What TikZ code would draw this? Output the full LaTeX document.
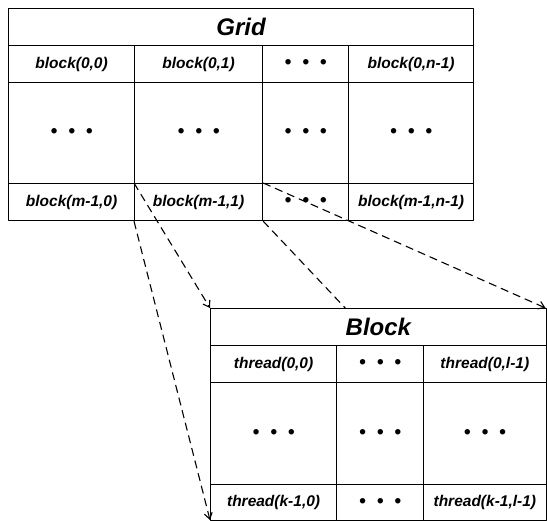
\documentclass[tikz,border=0pt]{standalone}
\usepackage{fontspec}
\setmainfont{Liberation Sans}
\usetikzlibrary{arrows.meta,positioning}

\newcommand{\tdots}{{\fontsize{19}{19}\selectfont\textbullet\hspace{11pt}\textbullet\hspace{11pt}\textbullet}}

\begin{document}
\begin{tikzpicture}[x=1pt, y=-1pt, line join=round,
  cell/.style={draw, rectangle, anchor=north west, inner sep=0pt, line width=1.2pt,
    fill=white, font=\bfseries\itshape\fontsize{15.5}{16}\selectfont},
  head/.style={cell, font=\bfseries\itshape\fontsize{24}{24}\selectfont},
  link/.style={dashed, dash pattern=on 8pt off 5pt, line width=1.1pt,
    -{Straight Barb[length=6pt,width=8pt]}}]
\useasboundingbox (0,0) rectangle (547,521);
% grid
\node[head, minimum width=465, minimum height=37] (grid) at (8,8) {Grid};
\node[cell, minimum width=126, minimum height=37]  (g00) at (8,45)   {block(0,0)};
\node[cell, minimum width=128, minimum height=37]  (g01) at (134,45) {block(0,1)};
\node[cell, minimum width=86,  minimum height=37]  (g0d) at (262,45) {\tdots};
\node[cell, minimum width=125, minimum height=37]  (g0n) at (348,45) {block(0,n-1)};
\node[cell, minimum width=126, minimum height=101] (gd0) at (8,82)   {\tdots};
\node[cell, minimum width=128, minimum height=101] (gd1) at (134,82) {\tdots};
\node[cell, minimum width=86,  minimum height=101] (gdd) at (262,82) {\tdots};
\node[cell, minimum width=125, minimum height=101] (gdn) at (348,82) {\tdots};
\node[cell, minimum width=126, minimum height=37]  (gm0) at (8,183)   {block(m-1,0)};
\node[cell, minimum width=128, minimum height=37]  (gm1) at (134,183) {block(m-1,1)};
\node[cell, minimum width=86,  minimum height=37]  (gmd) at (262,183) {\tdots};
\node[cell, minimum width=125, minimum height=37]  (gmn) at (348,183) {block(m-1,n-1)};
% corners of the block box
\coordinate (bnw) at (210,308);
\coordinate (bne) at (545.5,308);
\coordinate (bsw) at (210,520);
\coordinate (bse) at (545.5,520);
% this link runs behind the block
\draw[link] (gm1.south east) -- (bse);
% block
\node[head, minimum width=335.5, minimum height=37] (block) at (bnw) {Block};
\node[cell, minimum width=126,   minimum height=37]  (b00) at (210,345) {thread(0,0)};
\node[cell, minimum width=87,    minimum height=37]  (b0d) at (336,345) {\tdots};
\node[cell, minimum width=122.5, minimum height=37]  (b0l) at (423,345) {thread(0,l-1)};
\node[cell, minimum width=126,   minimum height=102] (bd0) at (210,382) {\tdots};
\node[cell, minimum width=87,    minimum height=102] (bdd) at (336,382) {\tdots};
\node[cell, minimum width=122.5, minimum height=102] (bdl) at (423,382) {\tdots};
\node[cell, minimum width=126,   minimum height=36]  (bk0) at (210,484) {thread(k-1,0)};
\node[cell, minimum width=87,    minimum height=36]  (bkd) at (336,484) {\tdots};
\node[cell, minimum width=122.5, minimum height=36]  (bkl) at (423,484) {thread(k-1,l-1)};
% other links from block(m-1,1)
\draw[link] (gm1.north west) -- (bnw);
\draw[link] (gm1.south west) -- (bsw);
\draw[link] (gm1.north east) -- (bne);
\end{tikzpicture}
\end{document}
